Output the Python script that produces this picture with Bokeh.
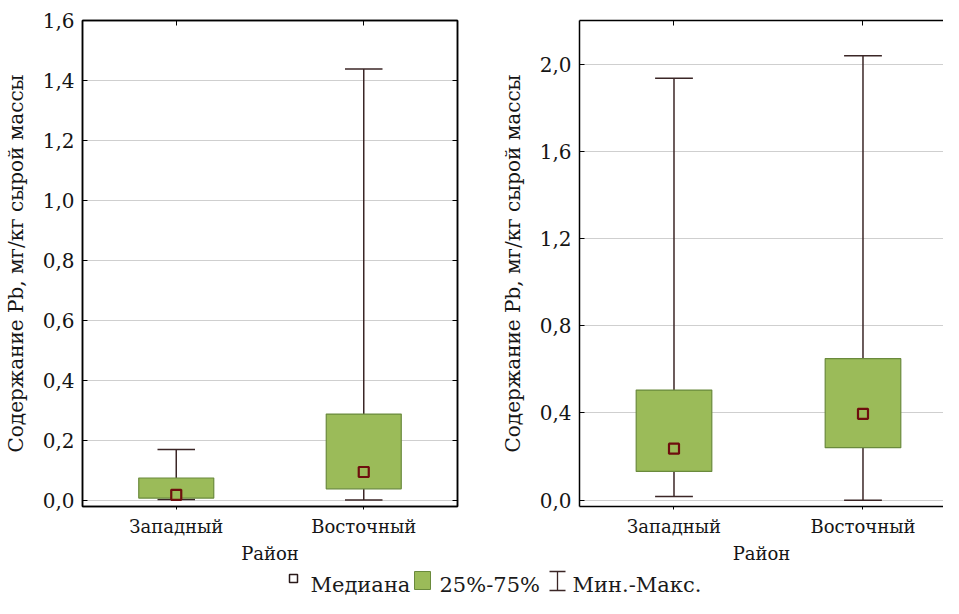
from bokeh.plotting import figure
from bokeh.models import (Range1d, FixedTicker, CustomJSTickFormatter, LinearAxis,
                          ColumnDataSource)
from bokeh.layouts import row, column
from bokeh.embed import file_html
from bokeh.resources import INLINE
from bokeh.core.properties import value

# ---------------- data ----------------
categories = ["Западный", "Восточный"]

left_min = [0.003, 0.002]
left_q1 = [0.008, 0.039]
left_med = [0.019, 0.095]
left_q3 = [0.075, 0.288]
left_max = [0.170, 1.438]
left_ticks = [0.0, 0.2, 0.4, 0.6, 0.8, 1.0, 1.2, 1.4, 1.6]

right_min = [0.017, 0.000]
right_q1 = [0.132, 0.241]
right_med = [0.236, 0.396]
right_q3 = [0.505, 0.649]
right_max = [1.935, 2.038]
right_ticks = [0.0, 0.4, 0.8, 1.2, 1.6, 2.0]

y_title = "Содержание Pb, мг/кг сырой массы"
x_title = "Район"
legend_labels = ["Медиана", "25%-75%", "Мин.-Макс."]

# ---------------- style ----------------
FONT = "DejaVu Serif"
GREEN = "#9bbb59"
GREEN_EDGE = "#6a8a3c"
WHISK = "#3b2626"
MED_EDGE = "#6e0e0e"
GRID = "#cfcfcf"
TXT = "#151515"

fmt = CustomJSTickFormatter(code="return tick.toFixed(1).replace('.', ',');")
empty_fmt = CustomJSTickFormatter(code="return '';")


def make_panel(width, height, ymin, ymax, xmax, ticks, mins, q1, med, q3, maxs,
               border_left, border_right, border_top, border_bottom, outline):
    p = figure(width=width, height=height, output_backend="svg", toolbar_location=None,
               x_range=Range1d(0, xmax), y_range=Range1d(ymin, ymax),
               min_border_left=border_left, min_border_right=border_right,
               min_border_top=border_top, min_border_bottom=border_bottom)
    p.background_fill_color = "white"
    p.border_fill_color = "white"
    if outline:
        p.outline_line_color = "black"
        p.outline_line_width = 1.5
    else:
        p.outline_line_color = None

    xs = [i + 0.5 for i in range(len(categories))]
    src = ColumnDataSource(dict(
        x=xs, xl=[x - 0.1 for x in xs], xr=[x + 0.1 for x in xs],
        mn=mins, q1=q1, med=med, q3=q3, mx=maxs))

    p.segment(x0="x", y0="mn", x1="x", y1="q1", source=src, line_color=WHISK, line_width=1.5)
    p.segment(x0="x", y0="q3", x1="x", y1="mx", source=src, line_color=WHISK, line_width=1.5)
    p.segment(x0="xl", y0="mn", x1="xr", y1="mn", source=src, line_color=WHISK, line_width=1.5)
    p.segment(x0="xl", y0="mx", x1="xr", y1="mx", source=src, line_color=WHISK, line_width=1.5)
    p.vbar(x="x", width=0.4, bottom="q1", top="q3", source=src,
           fill_color=GREEN, line_color=GREEN_EDGE, line_width=1.2)
    p.scatter(x="x", y="med", source=src, marker="square", size=10,
              fill_color=GREEN, line_color=MED_EDGE, line_width=2.2)

    p.xgrid.visible = False
    p.ygrid.ticker = FixedTicker(ticks=ticks)
    p.ygrid.grid_line_color = GRID
    p.ygrid.grid_line_width = 1.2

    ya = p.yaxis[0]
    ya.ticker = FixedTicker(ticks=ticks)
    ya.formatter = fmt
    ya.major_tick_in = 5
    ya.major_tick_out = 0
    ya.minor_tick_line_color = None
    ya.axis_line_color = "black"
    ya.axis_line_width = 1.5
    ya.major_label_text_font = FONT
    ya.major_label_text_font_size = "20px"
    ya.major_label_text_color = TXT
    ya.major_label_standoff = 8
    ya.axis_label = y_title
    ya.axis_label_text_font = FONT
    ya.axis_label_text_font_size = "20px"
    ya.axis_label_text_font_style = "normal"
    ya.axis_label_text_color = TXT
    ya.axis_label_standoff = 12

    xa = p.xaxis[0]
    xa.ticker = FixedTicker(ticks=xs)
    xa.major_label_overrides = {x: c for x, c in zip(xs, categories)}
    xa.major_tick_in = 0
    xa.major_tick_out = 3
    xa.minor_tick_line_color = None
    xa.axis_line_color = "black"
    xa.axis_line_width = 1.5
    xa.major_label_text_font = FONT
    xa.major_label_text_font_size = "18px"
    xa.major_label_text_color = TXT
    xa.major_label_standoff = 6
    xa.axis_label = x_title
    xa.axis_label_text_font = FONT
    xa.axis_label_text_font_size = "18px"
    xa.axis_label_text_font_style = "normal"
    xa.axis_label_text_color = TXT
    xa.axis_label_standoff = 3

    ta = LinearAxis(ticker=FixedTicker(ticks=xs), formatter=empty_fmt,
                    major_tick_in=5, major_tick_out=0, minor_tick_line_color=None,
                    axis_line_color="black", axis_line_width=1.5,
                    major_label_standoff=0, major_label_text_font_size="1px")
    p.add_layout(ta, "above")

    if outline:
        ra = LinearAxis(ticker=FixedTicker(ticks=ticks), formatter=empty_fmt,
                        major_tick_in=5, major_tick_out=0, minor_tick_line_color=None,
                        axis_line_color="black", axis_line_width=1.5,
                        major_label_standoff=0, major_label_text_font_size="1px")
        p.add_layout(ra, "right")
    return p


left = make_panel(472, 566, -0.02, 1.6, 2.0, left_ticks,
                  left_min, left_q1, left_med, left_q3, left_max,
                  80, 15, 16, 57, True)
right = make_panel(471, 566, -0.029, 2.2, 1.926, right_ticks,
                   right_min, right_q1, right_med, right_q3, right_max,
                   107, 0, 20, 53, False)

leg = figure(width=943, height=32, output_backend="svg", toolbar_location=None,
             x_range=Range1d(0, 943), y_range=Range1d(32, 0),
             min_border=0, min_border_left=0, min_border_right=0,
             min_border_top=0, min_border_bottom=0,
             x_axis_location=None, y_axis_location=None)
leg.outline_line_color = None
leg.grid.visible = False
leg.background_fill_color = "white"
leg.border_fill_color = "white"

leg.scatter(x=[293], y=[12], marker="square", size=8, fill_color="white",
            line_color="#2a1a1a", line_width=1.5)
leg.quad(left=[414], right=[430], top=[5], bottom=[23], fill_color=GREEN,
         line_color=GREEN_EDGE, line_width=1)
leg.segment(x0=[557], y0=[5], x1=[557], y1=[24], line_color=WHISK, line_width=1.3)
leg.segment(x0=[549], y0=[5], x1=[565], y1=[5], line_color=WHISK, line_width=1.3)
leg.segment(x0=[549], y0=[24], x1=[565], y1=[24], line_color=WHISK, line_width=1.3)
leg.text(x=[310, 439, 572], y=[18, 18, 18], text=legend_labels,
         text_font=value(FONT), text_font_size="21px", text_color="#1a1a1a",
         text_baseline="middle", text_align="left")

layout = column(row(left, right), leg)

with open("out.html", "w") as f:
    f.write(file_html(layout, INLINE))
